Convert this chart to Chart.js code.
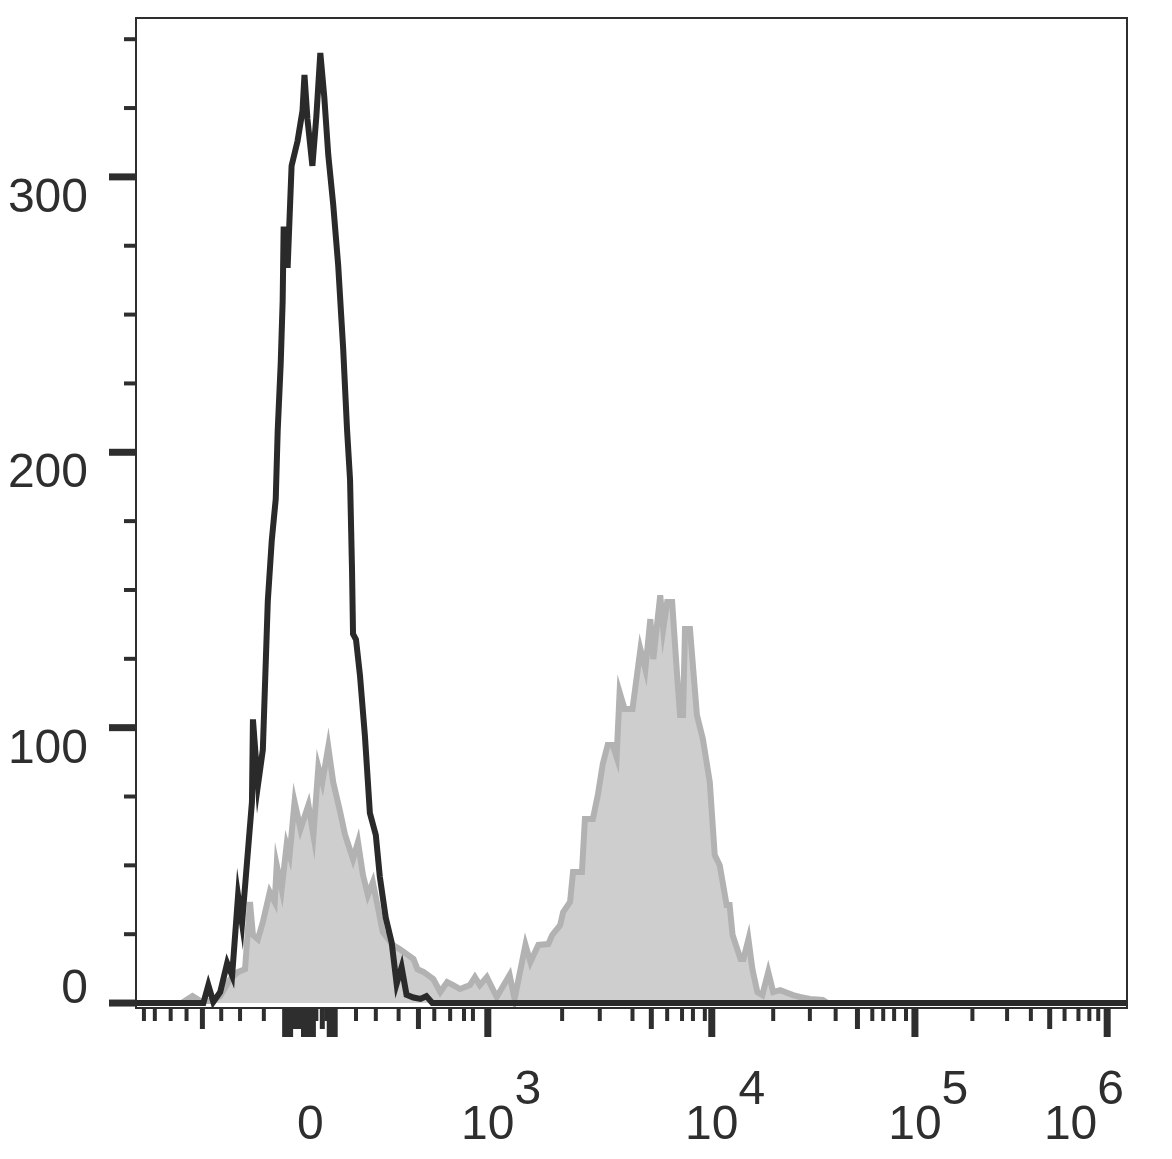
<!DOCTYPE html>
<html>
<head>
<meta charset="utf-8">
<script src="https://cdn.jsdelivr.net/npm/chart.js@4.4.1/dist/chart.umd.min.js"></script>
<style>
  html, body { margin: 0; padding: 0; background: #fff; }
  #wrap { width: 1172px; height: 1159px; }
</style>
</head>
<body>
<div id="wrap"><canvas id="histChart" width="1172" height="1159"></canvas></div>
<script>
/* flow histogram — x in display channels (0–1000, biexponential), y in cell counts */

// unstained / isotype control (black outline)
const blackX = [0, 68, 73, 78, 85, 92, 97, 103, 107, 112, 117, 118, 123, 128, 133, 137, 141, 143, 146, 148,
    149, 153, 157, 163, 168, 170, 173, 178, 182, 186, 190, 194, 199, 204, 209, 213, 216, 218, 219, 222,
    226, 231, 236, 242, 246, 252, 258, 263, 268, 273, 280, 287, 293, 299, 1000];
const blackY = [0, 0, 6.5, 0.4, 4, 14.5, 10, 39, 29, 51, 73, 103, 79, 92, 146, 168, 183, 208, 232, 255,
    282, 267, 304, 313, 324, 337, 321, 304, 322, 345, 329, 308, 290, 268, 238, 208, 190, 157, 134, 132,
    119, 97, 69, 61, 46, 31, 22, 7, 13, 3, 2, 1.5, 2.5, 0, 0];

// stained sample (grey filled)
const grayX = [0, 46, 57, 65, 77, 85, 95, 103, 110, 115, 118, 123, 128, 135, 140, 142, 147, 152, 155, 160,
    166, 174, 179, 184, 188, 194, 199, 206, 211, 216, 219, 224, 229, 234, 239, 243, 249, 259, 266, 280,
    284, 290, 300, 307, 314, 320, 327, 337, 342, 347, 354, 364, 377, 382, 393, 398, 406, 416, 420, 428,
    431, 438, 441, 450, 453, 461, 466, 471, 476, 481, 485, 488, 493, 501, 509, 514, 519, 522, 529, 532,
    536, 541, 546, 549, 552, 554, 559, 566, 572, 579, 584, 589, 596, 599, 602, 610, 613, 618, 622, 627,
    632, 638, 643, 650, 663, 670, 680, 693, 698, 1000];
const grayY = [0, 0, 2.5, 0.7, 0.7, 2.5, 8.7, 11.3, 12.3, 36.7, 24.7, 23.2, 29.4, 40.3, 36.7, 50.1, 41.4, 57.4, 53.7, 73,
    63.2, 71.9, 61, 85.7, 80.2, 93, 80.2, 69.4, 61, 55.6, 52.3, 58.5, 46.5, 39.2, 43.9, 36.7, 25.8, 21.1, 19.6, 16,
    12.3, 11.3, 8.7, 4, 7.6, 6.5, 5.1, 6.5, 9.4, 6.5, 9.4, 2.2, 10.2, 1.5, 21.1, 14.9, 21.1, 21.4, 24.7, 28.3,
    33, 36.7, 47.6, 47.6, 66.8, 66.8, 75.5, 86.8, 93.7, 93.7, 89.3, 112.9, 106.8, 106.8, 128.5, 121.3, 139.4, 124.9, 148.1, 135.8,
    145.6, 145.6, 119.1, 104.6, 104.6, 135.8, 135.8, 104.6, 95.9, 80.2, 53.7, 50.1, 35.6, 35.6, 24.7, 16, 16, 23.2, 12.3, 4,
    2.9, 11.3, 4, 4.7, 2.9, 2.2, 1.5, 1.1, 0, 0];

// y axis ticks
const yMajorTicks = [0, 100, 200, 300];
const yMinorTicks = [25, 50, 75, 125, 150, 175, 225, 250, 275, 325, 350];
const yTickLabels = ['0', '100', '200', '300'];

// x axis ticks (channel positions of the biexponential scale)
const xMinorTicks = [8, 19, 35, 51, 86, 105, 129, 182, 192, 222, 242, 265, 301, 317, 331, 340,
    430, 468, 501, 536, 551, 562, 574, 643, 680, 706, 743, 754, 765, 777, 844, 879, 903, 937, 951, 962, 971];
const xMediumTicks = [67, 160, 164, 188, 285, 520, 728, 922];
const xMajorTicks = [151, 155, 170, 174, 178, 196, 200, 355, 581, 786, 980];
const xLabelPos = [176, 355, 581, 786, 980];
const xLabelBase = ['0', '10', '10', '10', '10'];
const xLabelExp = ['', '3', '4', '5', '6'];

const INK = '#2e2e2e';
const FONT = '48px "Liberation Sans", Arial, Helvetica, sans-serif';

const axesPlugin = {
    id: 'flowAxes',
    afterDraw(chart) {
        const { ctx, chartArea: { left, right, top, bottom }, scales: { x, y } } = chart;
        ctx.save();
        ctx.strokeStyle = INK;
        ctx.lineCap = 'butt';

        // frame
        ctx.lineWidth = 2;
        ctx.strokeRect(left, top, right - left, bottom - top);

        const tick = (x1, y1, x2, y2, w) => {
            ctx.lineWidth = w;
            ctx.beginPath(); ctx.moveTo(x1, y1); ctx.lineTo(x2, y2); ctx.stroke();
        };

        // y ticks
        yMajorTicks.forEach(v => { const py = y.getPixelForValue(v); tick(left - 27, py, left, py, 7); });
        yMinorTicks.forEach(v => { const py = y.getPixelForValue(v); tick(left - 12, py, left, py, 4); });

        // x ticks
        xMinorTicks.forEach(v => { const px = x.getPixelForValue(v); tick(px, bottom + 1, px, bottom + 13, 4); });
        xMediumTicks.forEach(v => { const px = x.getPixelForValue(v); tick(px, bottom + 1, px, bottom + 21, 5); });
        xMajorTicks.forEach(v => { const px = x.getPixelForValue(v); tick(px, bottom + 1, px, bottom + 29, 7); });

        // labels
        ctx.fillStyle = INK;
        ctx.font = FONT;
        ctx.textAlign = 'right';
        ctx.textBaseline = 'alphabetic';
        yMajorTicks.forEach((v, i) => {
            const py = y.getPixelForValue(v);
            ctx.fillText(yTickLabels[i], 88, v === 0 ? py : py + 35);
        });

        ctx.textAlign = 'left';
        const baseY = bottom + 131;
        xLabelPos.forEach((v, i) => {
            const px = x.getPixelForValue(v);
            const wBase = ctx.measureText(xLabelBase[i]).width;
            const wExp = xLabelExp[i] ? ctx.measureText(xLabelExp[i]).width : 0;
            let start = px - wBase / 2;
            if (start + wBase + wExp > right - 3) start = right - 3 - wBase - wExp;
            ctx.fillText(xLabelBase[i], start, baseY);
            if (xLabelExp[i]) ctx.fillText(xLabelExp[i], start + wBase, baseY - 35);
        });
        ctx.restore();
    }
};

new Chart(document.getElementById('histChart').getContext('2d'), {
    type: 'line',
    data: {
        datasets: [
            { label: 'Control', data: blackX.map((v, i) => ({ x: v, y: blackY[i] })), borderColor: '#2a2a2a', borderWidth: 6, pointRadius: 0, fill: false, tension: 0, borderJoinStyle: 'miter' },
            { label: 'Stained', data: grayX.map((v, i) => ({ x: v, y: grayY[i] })), borderColor: '#b2b2b2', backgroundColor: '#cecece', borderWidth: 6, pointRadius: 0, fill: 'origin', tension: 0, borderJoinStyle: 'miter' }
        ]
    },
    options: {
        responsive: false,
        animation: false,
        devicePixelRatio: 1,
        layout: { padding: { left: 136, right: 45, top: 18, bottom: 151 } },
        plugins: { legend: { display: false }, tooltip: { enabled: false } },
        scales: {
            x: { type: 'linear', display: false, min: 0, max: 1000 },
            y: { type: 'linear', display: false, min: -1.8, max: 357.7 }
        }
    },
    plugins: [axesPlugin]
});
</script>
</body>
</html>
